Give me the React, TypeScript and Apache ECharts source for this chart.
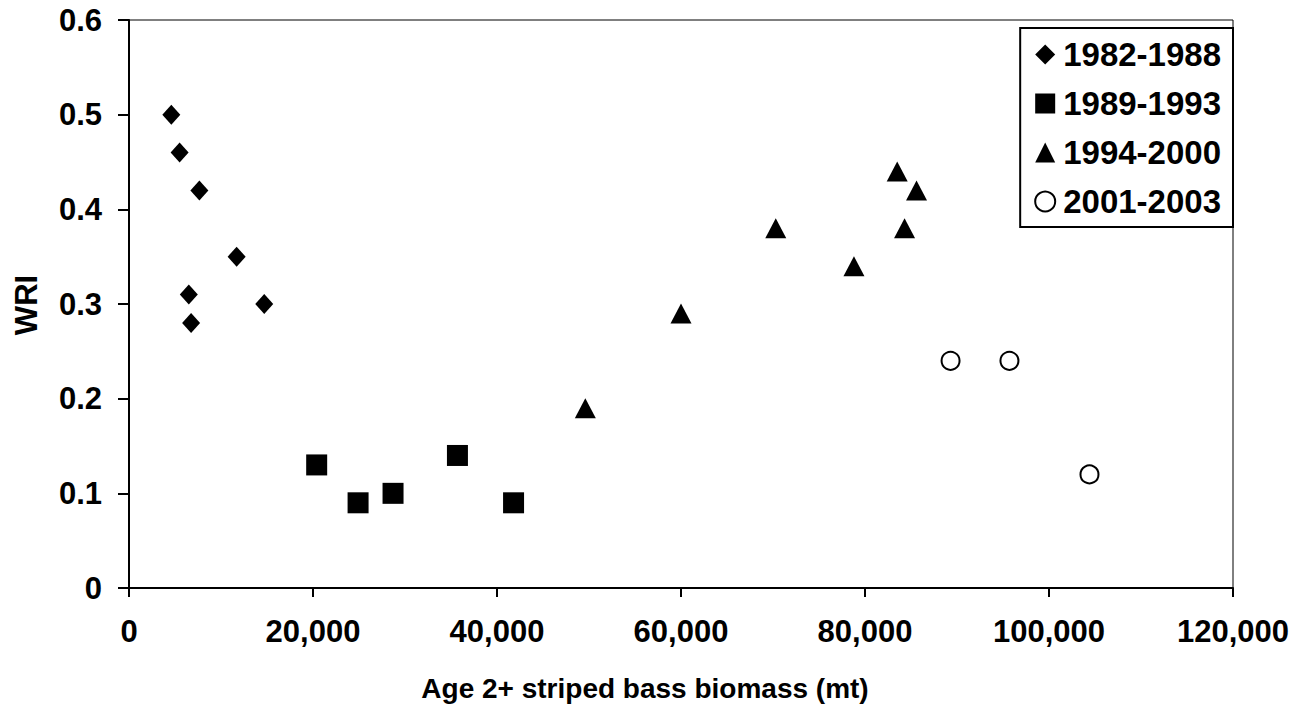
import React, { useEffect, useRef } from "react";
import * as echarts from "echarts";

const seriesNames = ["1982-1988", "1989-1993", "1994-2000", "2001-2003"];

const s1982: [number, number][] = [
  [4600, 0.5], [5500, 0.46], [7650, 0.42], [11700, 0.35], [6500, 0.31], [6750, 0.28], [14700, 0.3],
];
const s1989: [number, number][] = [
  [20400, 0.13], [24900, 0.09], [28700, 0.1], [35700, 0.14], [41800, 0.09],
];
const s1994: [number, number][] = [
  [49600, 0.19], [60000, 0.29], [70300, 0.38], [78800, 0.34], [83500, 0.44], [85600, 0.42], [84300, 0.38],
];
const s2001: [number, number][] = [
  [89300, 0.24], [95700, 0.24], [104400, 0.12],
];

const xTicks = { min: 0, max: 120000, interval: 20000 };
const yTicks = { min: 0, max: 0.6, interval: 0.1 };

const xTitle = "Age 2+ striped bass biomass (mt)";
const yTitle = "WRI";

const FONT = "'Liberation Sans', Arial, sans-serif";

export default function App() {
  const ref = useRef<HTMLDivElement>(null);
  useEffect(() => {
    document.body.style.margin = "0";
    const chart = echarts.init(ref.current!, null, { renderer: "svg" });
    const black = "#000";
    chart.setOption({
      animation: false,
      backgroundColor: "#fff",
      grid: {
        left: 129,
        right: 75,
        top: 20,
        bottom: 124,
        show: true,
        borderColor: black,
        borderWidth: 1,
        backgroundColor: "transparent",
      },
      legend: {
        orient: "vertical",
        right: 75,
        top: 28,
        padding: [10, 12, 9, 14],
        borderColor: black,
        borderWidth: 2,
        backgroundColor: "#fff",
        itemWidth: 20,
        itemHeight: 20,
        itemGap: 16,
        textStyle: {
          fontFamily: FONT,
          fontWeight: "bold",
          fontSize: 33,
          color: black,
          lineHeight: 30,
          padding: [0, 0, 0, 3],
        },
        data: [
          { name: seriesNames[0], icon: "diamond", itemStyle: { color: black, opacity: 1 } },
          { name: seriesNames[1], icon: "rect", itemStyle: { color: black, opacity: 1 } },
          { name: seriesNames[2], icon: "triangle", itemStyle: { color: black, opacity: 1 } },
          { name: seriesNames[3], icon: "circle", itemStyle: { color: "#fff", borderColor: black, borderWidth: 2, opacity: 1 } },
        ],
      },
      xAxis: {
        type: "value",
        min: xTicks.min,
        max: xTicks.max,
        interval: xTicks.interval,
        splitLine: { show: false },
        axisLine: { show: true, onZero: false, lineStyle: { color: black, width: 2 } },
        axisTick: { show: true, inside: false, length: 9, lineStyle: { color: black, width: 2 } },
        axisLabel: {
          margin: 28,
          fontFamily: FONT,
          fontWeight: "bold",
          fontSize: 31,
          color: black,
          formatter: (v: number) => v.toLocaleString("en-US"),
        },
      },
      yAxis: {
        type: "value",
        min: yTicks.min,
        max: yTicks.max,
        interval: yTicks.interval,
        splitLine: { show: false },
        axisLine: { show: true, onZero: false, lineStyle: { color: black, width: 2 } },
        axisTick: { show: true, inside: false, length: 11, lineStyle: { color: black, width: 2 } },
        axisLabel: {
          margin: 27,
          fontFamily: FONT,
          fontWeight: "bold",
          fontSize: 31,
          color: black,
          formatter: (v: number) => (v === 0 ? "0" : v.toFixed(1)),
        },
      },
      graphic: [
        {
          type: "text",
          x: 645,
          y: 688,
          style: {
            text: xTitle,
            fontFamily: FONT,
            fontWeight: "bold",
            fontSize: 28,
            fill: black,
            align: "center",
            verticalAlign: "middle",
          },
        },
        {
          type: "text",
          x: 26,
          y: 305,
          rotation: Math.PI / 2,
          style: {
            text: yTitle,
            fontFamily: FONT,
            fontWeight: "bold",
            fontSize: 31,
            fill: black,
            align: "center",
            verticalAlign: "middle",
          },
        },
      ],
      series: [
        {
          name: seriesNames[0],
          type: "scatter",
          symbol: "diamond",
          symbolSize: [18, 20],
          itemStyle: { color: black, opacity: 1 },
          data: s1982,
        },
        {
          name: seriesNames[1],
          type: "scatter",
          symbol: "rect",
          symbolSize: 21,
          itemStyle: { color: black, opacity: 1 },
          data: s1989,
        },
        {
          name: seriesNames[2],
          type: "scatter",
          symbol: "triangle",
          symbolSize: [21, 20],
          itemStyle: { color: black, opacity: 1 },
          data: s1994,
        },
        {
          name: seriesNames[3],
          type: "scatter",
          symbol: "circle",
          symbolSize: 18,
          itemStyle: { color: "#fff", borderColor: black, borderWidth: 2, opacity: 1 },
          data: s2001,
        },
      ],
    });
    return () => chart.dispose();
  }, []);
  return <div ref={ref} style={{ width: 1308, height: 712 }} />;
}
